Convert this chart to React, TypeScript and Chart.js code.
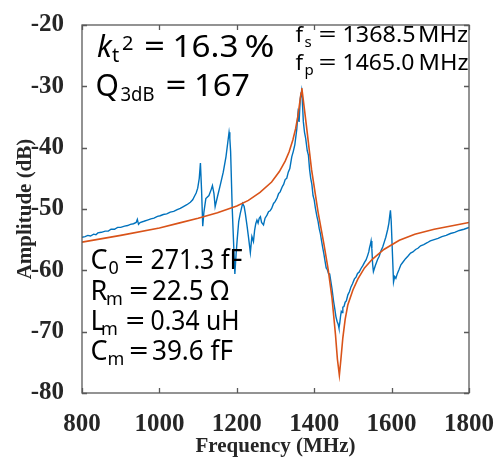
import React, { useEffect, useRef } from 'react';
import { Chart, registerables } from 'chart.js';

Chart.register(...registerables);

// Measured response: [frequency (MHz), amplitude (dB)]
const measuredSeries: [number, number][] = [
  [800, -54.6], [808, -54.5], [815, -54.3], [822, -54.4], [830, -54.1], [836, -54.2], [841, -53.9], [850, -53.8],
  [860, -53.6], [868, -53.6], [875, -53.3], [884, -53.3], [892, -53.0], [900, -53.0], [910, -52.8], [918, -52.7],
  [925, -52.5], [933, -52.4], [940, -52.2], [943, -51.7], [946, -52.5], [950, -52.2], [960, -52.0], [969, -51.8],
  [978, -51.6], [986, -51.5], [995, -51.2], [1002, -51.1], [1010, -50.9], [1019, -50.8], [1028, -50.5], [1037, -50.4],
  [1046, -50.1], [1054, -49.9], [1062, -49.6], [1071, -49.3], [1080, -48.9], [1086, -48.5], [1090, -48.0], [1095, -47.4],
  [1099, -46.6], [1103, -45.0], [1106, -42.5], [1109, -47.0], [1112, -52.8], [1115, -50.5], [1120, -48.3], [1128, -47.8],
  [1134, -46.8], [1137, -46.2], [1141, -47.5], [1144, -49.6], [1150, -48.0], [1158, -45.9], [1165, -44.0], [1172, -41.5],
  [1177, -39.0], [1180, -37.5], [1182, -38.5], [1184, -40.6], [1188, -49.6], [1192, -56.0], [1195, -60.6], [1198, -57.5],
  [1201, -55.0], [1205, -52.0], [1209, -50.7], [1215, -49.1], [1219, -49.6], [1222, -50.7], [1227, -53.0], [1231, -55.0],
  [1235, -57.1], [1239, -54.5], [1243, -55.3], [1246, -53.5], [1249, -52.4], [1252, -51.8], [1255, -52.3], [1258, -51.5],
  [1261, -51.25], [1264, -52.2], [1269, -52.6], [1273, -51.5], [1278, -51.0], [1282, -50.45], [1286, -50.3], [1290, -49.9],
  [1295, -49.1], [1299, -48.8], [1304, -48.2], [1308, -47.5], [1312, -47.2], [1318, -46.3], [1321, -46.0], [1325, -45.2],
  [1329, -45.0], [1333, -44.0], [1337, -43.4], [1342, -41.5], [1346, -40.6], [1350, -39.5], [1355, -37.0], [1358, -34.5],
  [1361, -35.8], [1364, -32.0], [1367.5, -30.7], [1369, -32.0], [1372, -35.8], [1375, -37.5], [1378, -38.5], [1382, -40.5],
  [1385, -41.2], [1388, -43.5], [1391, -45.0], [1394, -46.0], [1397, -47.8], [1400, -48.5], [1403, -49.8], [1407, -51.2],
  [1410, -52.0], [1413, -53.2], [1416, -54.0], [1419, -55.2], [1422, -56.3], [1425, -57.3], [1428, -58.5], [1431, -59.6],
  [1434, -59.9], [1437, -60.5], [1440, -60.6], [1443, -61.8], [1446, -63.0], [1450, -65.0], [1453, -66.2], [1456, -67.5],
  [1459, -68.3], [1462, -68.8], [1464, -69.4], [1466, -68.6], [1468, -67.5], [1470, -66.7], [1472, -66.9], [1474, -66.0],
  [1477, -65.9], [1480, -65.2], [1483, -65.0], [1487, -64.0], [1491, -63.5], [1495, -62.7], [1499, -62.2], [1504, -61.4],
  [1508, -61.1], [1512, -60.5], [1516, -60.3], [1521, -59.7], [1526, -59.2], [1530, -58.7], [1534, -58.3], [1538, -57.6],
  [1541, -57.0], [1543, -56.3], [1545, -55.8], [1547, -55.2], [1549, -56.5], [1551, -59.0], [1553, -60.2], [1558, -59.2],
  [1564, -58.2], [1568, -57.7], [1572, -56.9], [1577, -56.2], [1581, -55.4], [1585, -54.6], [1590, -53.3], [1593, -52.3],
  [1595, -51.2], [1597, -50.2], [1599, -52.0], [1602, -57.0], [1605, -61.9], [1608, -61.0], [1611, -61.3], [1615, -60.5],
  [1619, -59.9], [1624, -59.1], [1630, -58.6], [1636, -58.1], [1642, -57.7], [1649, -57.2], [1655, -57.0], [1662, -56.6],
  [1668, -56.4], [1675, -56.0], [1683, -55.8], [1692, -55.5], [1700, -55.2], [1710, -55.0], [1720, -54.8], [1730, -54.5],
  [1741, -54.3], [1752, -54.0], [1763, -53.8], [1775, -53.5], [1787, -53.3], [1800, -53.0],
];

// Fitted BVD model response: [frequency (MHz), amplitude (dB)]
const fittedSeries: [number, number][] = [
  [800, -55.4], [900, -54.3], [1000, -53.1], [1050, -52.3], [1100, -51.5], [1150, -50.6], [1200, -49.5], [1230, -48.6],
  [1260, -47.3], [1290, -45.6], [1310, -43.9], [1325, -42.2], [1335, -40.7], [1345, -38.7], [1352, -36.9], [1358, -34.8],
  [1363, -32.5], [1366, -31.1], [1368, -30.3], [1371, -31.8], [1380, -36.5], [1393, -43.5], [1410, -50.5], [1425, -55.7],
  [1436, -59.8], [1446, -64.5], [1455, -70.5], [1460, -74.5], [1465, -77.1], [1469, -74.5], [1474, -71.0], [1480, -68.0],
  [1487, -65.6], [1500, -63.2], [1513, -61.4], [1530, -59.6], [1550, -58.2], [1580, -56.6], [1620, -55.1], [1660, -54.1],
  [1710, -53.3], [1760, -52.7], [1800, -52.2],
];

const xTicks = [800, 1000, 1200, 1400, 1600, 1800];
const yTicks = [-80, -70, -60, -50, -40, -30, -20];

const xTitle = 'Frequency (MHz)';
const yTitle = 'Amplitude (dB)';

const ktValue = '16.3';
const qValue = '167';
const fsValue = '1368.5';
const fpValue = '1465.0';
const freqUnit = 'MHz';
const c0Value = '271.3 fF';
const rmValue = '22.5 Ω';
const lmValue = '0.34 uH';
const cmValue = '39.6 fF';

const SANS = '"Noto Sans", "DejaVu Sans", sans-serif';
const SERIF = '"Liberation Serif", "Times New Roman", serif';

const boxPlugin = {
  id: 'boxTicks',
  afterDatasetsDraw(chart: any) {
    const { ctx, chartArea, scales } = chart;
    const { left, right, top, bottom } = chartArea;
    ctx.save();
    ctx.strokeStyle = '#595959';
    ctx.lineWidth = 1.3;
    ctx.strokeRect(left, top, right - left, bottom - top);
    const tl = 5;
    ctx.beginPath();
    for (const v of xTicks) {
      const px = Math.round(scales.x.getPixelForValue(v)) + 0.5;
      ctx.moveTo(px, bottom);
      ctx.lineTo(px, bottom - tl);
      ctx.moveTo(px, top);
      ctx.lineTo(px, top + tl);
    }
    for (const v of yTicks) {
      const py = Math.round(scales.y.getPixelForValue(v)) + 0.5;
      ctx.moveTo(left, py);
      ctx.lineTo(left + tl, py);
      ctx.moveTo(right, py);
      ctx.lineTo(right - tl, py);
    }
    ctx.stroke();
    ctx.restore();
  },
};

const textPlugin = {
  id: 'annotations',
  afterDraw(chart: any) {
    const ctx = chart.ctx;
    ctx.save();
    ctx.fillStyle = '#000000';
    ctx.textBaseline = 'alphabetic';
    ctx.textAlign = 'left';
    // draw text with its advance stretched/compressed to width w (if given)
    const put = (t: string, x: number, y: number, size: number, w?: number, italic = false) => {
      ctx.font = `${italic ? 'italic ' : ''}${size}px ${SANS}`;
      const mw = ctx.measureText(t).width;
      const sx = w ? w / mw : 1;
      ctx.save();
      ctx.translate(x, y);
      ctx.scale(sx, 1);
      ctx.fillText(t, 0, 0);
      ctx.restore();
    };
    // k_t^2 = 16.3 %
    put('k', 97, 57, 30, undefined, true);
    put('t', 112, 62, 20);
    put('2', 122, 50, 20);
    put('=', 144, 57, 30, 21);
    put(ktValue, 172.5, 57, 30, 66);
    put('%', 244.5, 57, 30, 30);
    // Q_3dB = 167
    put('Q', 95.5, 96, 30);
    put('3dB', 120.5, 101, 20, 34);
    put('=', 165.5, 96, 30, 21);
    put(qValue, 194, 96, 30, 56);
    // f_s, f_p
    put('f', 295.5, 42, 22);
    put('s', 304.5, 47, 15);
    put('=', 318.5, 42, 22, 18);
    put(fsValue, 342.5, 42, 22, 73);
    put(freqUnit, 418, 42, 22, 50);
    put('f', 295.5, 70, 22);
    put('p', 304.5, 75, 15);
    put('=', 318.5, 70, 22, 18);
    put(fpValue, 342.5, 70, 22, 72);
    put(freqUnit, 418.5, 70, 22, 50);
    // BVD parameters
    put('C', 90.5, 269, 27);
    put('0', 108.5, 274, 18);
    put('=', 124, 269, 27, 20);
    put(c0Value, 150.5, 269, 27, 92);
    put('R', 90.5, 300, 27);
    put('m', 106, 305, 18);
    put('=', 129, 300, 27, 19.5);
    put(rmValue, 152, 300, 27, 77);
    put('L', 90.5, 330, 27);
    put('m', 101, 335, 18);
    put('=', 125.5, 330, 27, 19.5);
    put(lmValue, 150.5, 330, 27, 89);
    put('C', 90.5, 360, 27);
    put('m', 107.5, 365, 18);
    put('=', 129, 360, 27, 19.5);
    put(cmValue, 152, 360, 27, 81);
    ctx.restore();
  },
};

export default function App() {
  const canvasRef = useRef<HTMLCanvasElement | null>(null);

  useEffect(() => {
    if (!canvasRef.current) return;
    const tickFont = { family: SERIF, size: 25, weight: 'bold' as const };
    const titleFont = { family: SERIF, size: 21, weight: 'bold' as const, lineHeight: 1 };
    const chart = new Chart(canvasRef.current, {
      type: 'scatter',
      data: {
        datasets: [
          {
            label: 'Fitted',
            data: fittedSeries.map(([f, a]) => ({ x: f, y: a })),
            showLine: true,
            borderColor: '#D95319',
            backgroundColor: '#D95319',
            borderWidth: 1.6,
            pointRadius: 0,
            tension: 0,
          },
          {
            label: 'Measured',
            data: measuredSeries.map(([f, a]) => ({ x: f, y: a })),
            showLine: true,
            borderColor: '#0072BD',
            backgroundColor: '#0072BD',
            borderWidth: 1.4,
            pointRadius: 0,
            tension: 0,
          },
        ],
      },
      options: {
        animation: false,
        responsive: false,
        devicePixelRatio: 1,
        layout: { padding: { top: 18, right: 31, left: 0, bottom: 0 } },
        plugins: { legend: { display: false }, tooltip: { enabled: false } },
        scales: {
          x: {
            type: 'linear',
            min: 800,
            max: 1800,
            afterBuildTicks: (s: any) => {
              s.ticks = xTicks.map((v) => ({ value: v }));
            },
            afterFit: (s: any) => {
              s.height = 64;
            },
            grid: { display: false },
            border: { display: false },
            ticks: {
              font: tickFont,
              color: '#262626',
              padding: 9,
              maxRotation: 0,
              autoSkip: false,
              callback: (v: any) => String(v),
            },
            title: { display: true, text: xTitle, font: titleFont, color: '#262626', padding: { top: 0, bottom: 0 } },
          },
          y: {
            type: 'linear',
            min: -80,
            max: -20,
            afterBuildTicks: (s: any) => {
              s.ticks = yTicks.map((v) => ({ value: v }));
            },
            afterFit: (s: any) => {
              s.width = 82;
            },
            grid: { display: false },
            border: { display: false },
            ticks: {
              font: tickFont,
              color: '#262626',
              padding: 10,
              autoSkip: false,
              callback: (v: any) => String(v),
            },
            title: { display: true, text: yTitle, font: titleFont, color: '#262626', padding: { top: 15, bottom: 0 } },
          },
        },
      } as any,
      plugins: [boxPlugin, textPlugin],
    });
    return () => chart.destroy();
  }, []);

  return (
    <div style={{ position: 'absolute', left: 0, top: 0, width: 503, height: 457, background: '#ffffff' }}>
      <canvas ref={canvasRef} width={503} height={457} style={{ display: 'block' }} />
    </div>
  );
}
